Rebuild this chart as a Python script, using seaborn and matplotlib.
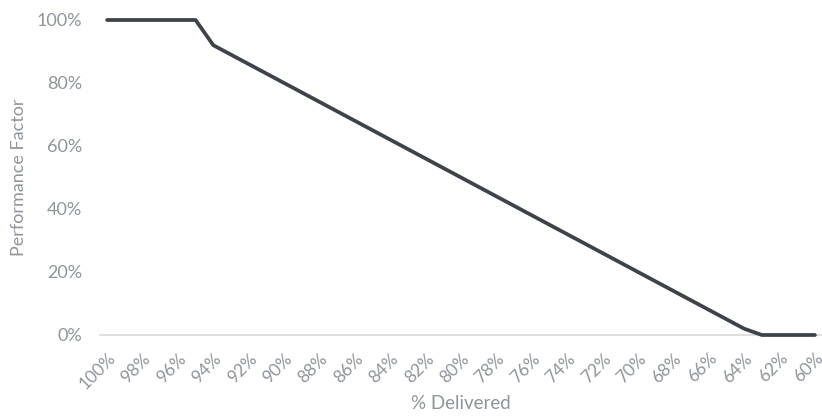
import numpy as np
import pandas as pd
import matplotlib
matplotlib.use("Agg")
import matplotlib.pyplot as plt
import seaborn as sns

# % delivered categories (100% down to 60%) and the performance factor at each
delivered = [100, 99, 98, 97, 96, 95, 94, 93, 92, 91, 90, 89, 88, 87, 86, 85, 84, 83, 82, 81,
             80, 79, 78, 77, 76, 75, 74, 73, 72, 71, 70, 69, 68, 67, 66, 65, 64, 63, 62, 61, 60]
factor = [100, 100, 100, 100, 100, 100, 92, 89, 86, 83, 80, 77, 74, 71, 68, 65, 62, 59, 56, 53,
          50, 47, 44, 41, 38, 35, 32, 29, 26, 23, 20, 17, 14, 11, 8, 5, 2, 0, 0, 0, 0]
y_ticks = [0, 20, 40, 60, 80, 100]

df = pd.DataFrame({"delivered": delivered, "factor": factor})
df["pos"] = np.arange(len(df))

sns.set_theme(style="white")
plt.rcParams["font.family"] = ["Lato", "DejaVu Sans"]

grey = "#8f959b"
fig = plt.figure(figsize=(8.22, 4.2), dpi=100)
ax = fig.add_axes([0.1217, 0.2024, 0.8783, 0.75])

sns.lineplot(data=df, x="pos", y="factor", ax=ax, color="#3d4349", linewidth=2.7)
for ln in ax.lines:
    ln.set_clip_on(False)
    ln.set_zorder(5)

ax.set_xlim(-0.4, len(df) - 0.6)
ax.set_ylim(0, 100)

# every second category gets a label
xt = df["pos"][::2]
ax.set_xticks(xt)
ax.set_xticklabels([f"{d}%" for d in df["delivered"][::2]], rotation=45, ha="right",
                   rotation_mode="anchor", color=grey, fontsize=12.5)
ax.set_yticks(y_ticks)
ax.set_yticklabels([f"{v}%" for v in y_ticks], color=grey, fontsize=13)
ax.tick_params(axis="x", length=0, pad=11)
ax.tick_params(axis="y", length=0, pad=13)

for s in ["top", "right", "left"]:
    ax.spines[s].set_visible(False)
ax.spines["bottom"].set_color("#d9d9d9")
ax.spines["bottom"].set_linewidth(1.2)

ax.set_xlabel("% Delivered", color=grey, fontsize=13.5, labelpad=2)
ax.set_ylabel("Performance Factor", color=grey, fontsize=13, labelpad=7)

fig.savefig("out.png", dpi=100)
